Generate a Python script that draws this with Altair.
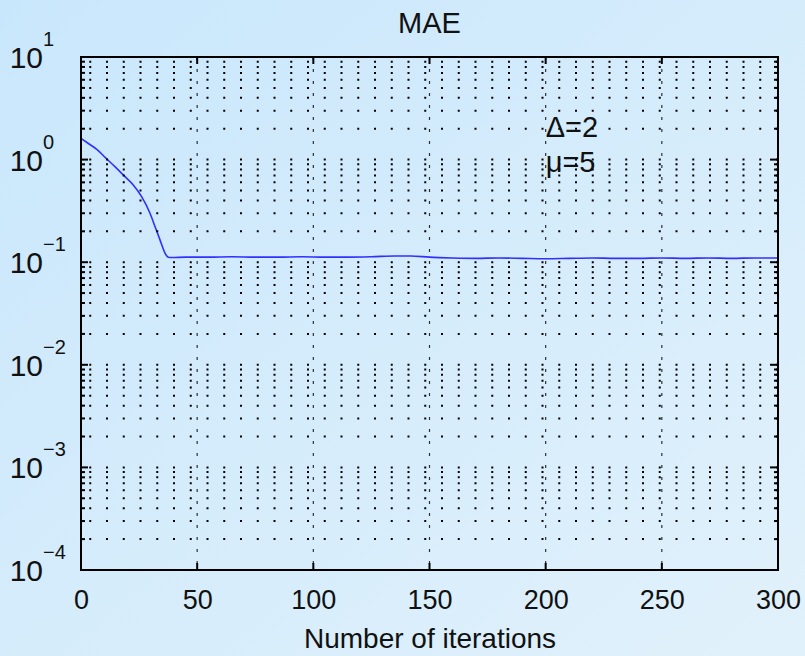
import altair as alt
import pandas as pd

# ---- data ----
iters = [0, 3.5, 6.8, 10.5, 14.6, 18.5, 22.5, 26.1, 29.7, 32, 34, 36.2, 37.6, 39, 45,
         55, 65, 75, 85, 95, 105, 115, 125, 135, 142, 150, 160, 170, 180, 190, 200, 210,
         220, 230, 240, 250, 260, 270, 280, 290, 300]
mae = [1.613, 1.42, 1.26, 1.047, 0.853, 0.697, 0.566, 0.435, 0.300, 0.218, 0.165, 0.122,
       0.1116, 0.111, 0.112, 0.112, 0.113, 0.112, 0.112, 0.113, 0.112, 0.112, 0.113,
       0.115, 0.115, 0.112, 0.110, 0.109, 0.110, 0.109, 0.108, 0.109, 0.110, 0.109,
       0.109, 0.110, 0.109, 0.110, 0.109, 0.110, 0.110]

x_ticks = [0, 50, 100, 150, 200, 250, 300]
x_inner = [50, 100, 150, 200, 250]
y_major = [1e-4, 1e-3, 1e-2, 1e-1, 1e0, 1e1]
y_exp = ["\u22124", "\u22123", "\u22122", "\u22121", "0", "1"]
y_minor = [m * 10.0 ** k for k in range(-4, 1) for m in range(2, 10)]
y_grid = y_major[:-1] + y_minor

notes_x = [200, 200]
notes_y = [2.03, 0.93]
notes_t = ["\u0394=2", "\u03bc=5"]
title_text = "MAE"

W, H = 697, 513
FONT = "Liberation Sans"
INK = "#111111"

xs = alt.Scale(domain=[0, 300], nice=False, zero=False)
ys = alt.Scale(type="log", domain=[1e-4, 10], nice=False)

line_df = pd.DataFrame({"it": iters, "mae": mae})
grid_df = pd.DataFrame({"v": y_grid})
major_df = pd.DataFrame({"v": y_major[1:-1]})
minor_df = pd.DataFrame({"v": y_minor})
lab_df = pd.DataFrame({"v": y_major, "e": y_exp, "b": ["10"] * 6})
xin_df = pd.DataFrame({"x": x_inner})
note_df = pd.DataFrame({"x": notes_x, "y": notes_y, "t": notes_t})
one_df = pd.DataFrame({"t": [title_text]})

x_axis = alt.Axis(values=x_ticks, ticks=False, domain=False, grid=False, zindex=5,
                  labelFont=FONT, labelFontSize=27, labelColor=INK, labelFlush=False,
                  labelBaseline="alphabetic", labelPadding=38,
                  title="Number of iterations", titleFont=FONT, titleFontSize=28,
                  titleFontWeight="normal", titleColor=INK,
                  titleBaseline="alphabetic", titleY=77)


def Y(f):
    return alt.Y(f, scale=ys, axis=None)


def X(f):
    return alt.X(f, scale=xs, axis=x_axis)


bg = alt.Chart(one_df).mark_rect(
    color=alt.LinearGradient(gradient="linear", x1=0, y1=0, x2=1, y2=1,
                             stops=[alt.GradientStop(color="#c9e7fc", offset=0),
                                    alt.GradientStop(color="#e1f1fb", offset=1)])
).encode(x=alt.value(-81), x2=alt.value(W + 27), y=alt.value(-57), y2=alt.value(H + 86))

hgrid = alt.Chart(grid_df).mark_rule(color="black", strokeWidth=2,
                                     strokeDash=[2, 14.75]).encode(y=Y("v:Q"))
vgrid = alt.Chart(xin_df).mark_rule(color="black", strokeWidth=1.2, opacity=0.8,
                                    strokeDash=[3, 9]).encode(x=X("x:Q"))

lt_major = alt.Chart(major_df).mark_rule(color="black", strokeWidth=2).encode(
    y=Y("v:Q"), x=alt.value(0), x2=alt.value(7))
lt_minor = alt.Chart(minor_df).mark_rule(color="black", strokeWidth=2).encode(
    y=Y("v:Q"), x=alt.value(0), x2=alt.value(4))
rt_major = alt.Chart(major_df).mark_rule(color="black", strokeWidth=2).encode(
    y=Y("v:Q"), x=alt.value(W - 8), x2=alt.value(W))
rt_minor = alt.Chart(minor_df).mark_rule(color="black", strokeWidth=2).encode(
    y=Y("v:Q"), x=alt.value(W - 4), x2=alt.value(W))
bt_ticks = alt.Chart(xin_df).mark_rule(color="black", strokeWidth=2).encode(
    x=X("x:Q"), y=alt.value(H - 7), y2=alt.value(H))
tp_ticks = alt.Chart(xin_df).mark_rule(color="black", strokeWidth=2).encode(
    x=X("x:Q"), y=alt.value(0), y2=alt.value(7))

frame = alt.Chart(one_df).mark_rect(fill=None, stroke="black", strokeWidth=2).encode(
    x=alt.value(0), x2=alt.value(W), y=alt.value(0), y2=alt.value(H))

line = alt.Chart(line_df).mark_line(color="#3030ff", strokeWidth=1.6,
                                    interpolate="monotone").encode(
    x=X("it:Q"), y=Y("mae:Q"))

ten = alt.Chart(lab_df).mark_text(font=FONT, fontSize=30, align="right",
                                  baseline="middle", dy=2, color=INK).encode(
    y=Y("v:Q"), x=alt.value(-38), text="b:N")
expo = alt.Chart(lab_df).mark_text(font=FONT, fontSize=20, align="left",
                                   baseline="middle", dy=-17, color=INK).encode(
    y=Y("v:Q"), x=alt.value(-38), text="e:N")

notes = alt.Chart(note_df).mark_text(font=FONT, fontSize=29, align="left",
                                     baseline="middle", color=INK).encode(
    x=X("x:Q"), y=Y("y:Q"), text="t:N")

title = alt.Chart(one_df).mark_text(font=FONT, fontSize=29, align="center",
                                    baseline="alphabetic", color=INK).encode(
    x=alt.value(W / 2), y=alt.value(-24), text="t:N")

chart = alt.layer(bg, line, hgrid, vgrid, lt_major, lt_minor, rt_major, rt_minor,
                  bt_ticks, tp_ticks, frame, ten, expo, notes, title).properties(
    width=W, height=H,
    autosize=alt.AutoSizeParams(type="none"),
    padding={"left": 81, "top": 57, "right": 27, "bottom": 86},
    background="#d3ebfb",
).configure_view(stroke=None)

chart.save("out.html", embed_options={"renderer": "svg", "actions": False})
